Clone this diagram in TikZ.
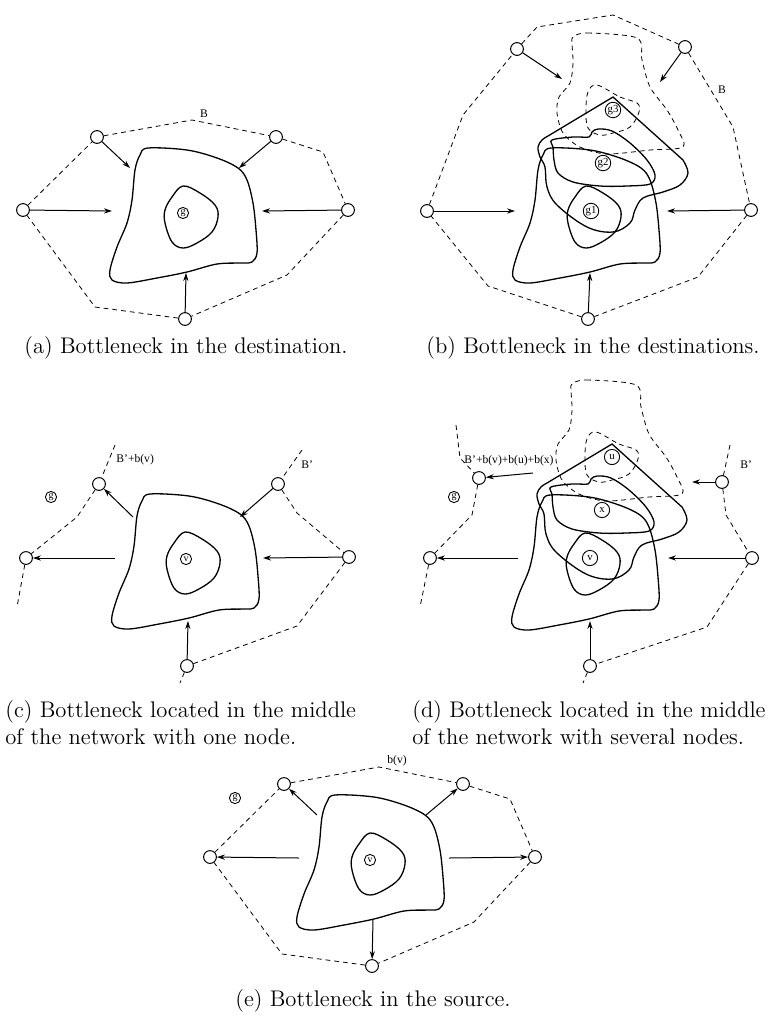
\documentclass[tikz,border=0pt]{standalone}
\usepackage{fontspec}
\usetikzlibrary{arrows.meta}
\newfontfamily\tms{Liberation Serif}
\tikzset{
 net/.style={circle,draw,line width=0.5pt,minimum size=6.4pt,inner sep=0pt},
 lab/.style={circle,draw,line width=0.45pt,inner sep=0.2pt,minimum size=5.6pt,font=\tms\fontsize{5}{5}\selectfont},
 labb/.style={lab,minimum size=7.6pt,font=\tms\fontsize{5.4}{5.4}\selectfont},
 blob/.style={line width=0.65pt},
 dl/.style={dashed,dash pattern=on 2.4pt off 2pt,line width=0.4pt},
 arr/.style={-{Stealth[length=4pt,width=2.6pt]},line width=0.5pt},
 txt/.style={font=\tms\fontsize{5.8}{7}\selectfont,inner sep=0pt},
 captxt/.style={font=\fontsize{11.3}{13.6}\selectfont,inner sep=0pt},
}
\newcommand\blobsA{%
 \draw[blob] plot[smooth cycle, tension=0.55] coordinates {(148,148) (187,150) (217,158) (238,168) (247,180) (253,203) (256,230) (257,253) (252,262) (243,263) (217,264) (187,272) (157,278) (127,283) (112,280) (110,270) (117,247) (127,223) (132,200) (135,170) (140,155)};
 \draw[blob] plot[smooth cycle, tension=0.6] coordinates {(183,186) (200,193) (215,205) (218,217) (212,232) (197,243) (183,248) (172,242) (165,223) (165,210) (172,197)};
}
\newcommand\blobsB{%
 \begin{scope}[shift={(403,0)}]\blobsA\end{scope}
 \draw[blob] (613,97) -- (683,160) -- plot[smooth, tension=0.6] coordinates {(683,160) (688,173) (680,185) (663,192) (643,198) (635,210) (630,223) (613,232) (587,227) (557,205) (547,187) (545,167) (540,157) (538,147) (542,140) (548,136)} -- cycle;
 \draw[blob] plot[smooth cycle, tension=0.55] coordinates {(552,140) (573,137) (589,137) (592,132) (598,129) (612,131) (630,143) (647,160) (655,175) (650,184) (627,186) (600,186) (573,182) (558,173) (554,160) (553,147)};
 \draw[dl] plot[smooth cycle, tension=0.5] coordinates {(573,37) (587,33) (637,38) (642,60) (650,87) (667,110) (678,130) (683,147) (650,150) (607,154) (580,147) (563,133) (557,113) (559,97) (570,83) (573,63) (572,43)};
 \draw[dl] plot[smooth cycle, tension=0.6] coordinates {(597,85) (620,97) (637,103) (639,112) (630,127) (613,133) (600,135) (588,128) (586,110) (588,92)};
}
\begin{document}
\begin{tikzpicture}[x=0.5pt,y=-0.5pt]
\useasboundingbox (0,0) rectangle (778,1024);
% ---------- (a)
\blobsA
\node[net] (a-tl) at (97,137) {};
\node[net] (a-tr) at (276,137) {};
\node[net] (a-l) at (23,210) {};
\node[net] (a-r) at (348,210) {};
\node[net] (a-b) at (185,319) {};
\node[lab] (a-g) at (183,213) {g};
\node[txt] (a-B) at (204,114) {B};
\coordinate (a-ptl) at (130,168);
\coordinate (a-ptr) at (239,168);
\coordinate (a-pl) at (112,211);
\coordinate (a-pr) at (262,211);
\coordinate (a-pb) at (186,273);
\draw[dl] (a-tl) -- (192,120) -- (a-tr) -- (323,152) -- (a-r) -- (287,275) -- (a-b) -- (95,307) -- (a-l) -- (a-tl);
\draw[arr] (a-tl) -- (a-ptl);
\draw[arr] (a-tr) -- (a-ptr);
\draw[arr] (a-l) -- (a-pl);
\draw[arr] (a-r) -- (a-pr);
\draw[arr] (a-b) -- (a-pb);
\node[captxt] (a-cap) at (186,348) {(a) Bottleneck in the destination.};
% ---------- (b)
\blobsB
\node[net] (b-tl) at (517,49) {};
\node[net] (b-tr) at (685,47) {};
\node[net] (b-l) at (427,211) {};
\node[net] (b-r) at (751,210) {};
\node[net] (b-b) at (588,319) {};
\node[labb] (b-g3) at (613,110) {g3};
\node[labb] (b-g2) at (603,163) {g2};
\node[labb] (b-g1) at (591,211) {g1};
\node[txt] (b-B) at (722,90) {B};
\coordinate (b-ptl) at (562,79);
\coordinate (b-ptr) at (660,82);
\coordinate (b-pl) at (515,211);
\coordinate (b-pr) at (667,211);
\coordinate (b-pb) at (590,273);
\draw[dl] (b-tl) -- (537,27) -- (613,15) -- (b-tr) -- (733,127) -- (b-r) -- (698,277) -- (b-b) -- (488,286) -- (b-l) -- (463,115) -- (b-tl);
\draw[arr] (b-tl) -- (b-ptl);
\draw[arr] (b-tr) -- (b-ptr);
\draw[arr] (b-l) -- (b-pl);
\draw[arr] (b-r) -- (b-pr);
\draw[arr] (b-b) -- (b-pb);
\node[captxt] (b-cap) at (593,348) {(b) Bottleneck in the destinations.};
% ---------- (c)
\begin{scope}[shift={(2,346)}]\blobsA\end{scope}
\node[net] (c-tl) at (99,484) {};
\node[net] (c-tr) at (278,484) {};
\node[net] (c-l) at (26,558) {};
\node[net] (c-r) at (349,557) {};
\node[net] (c-b) at (187,666) {};
\node[lab] (c-v) at (186,559) {v};
\node[lab] (c-g) at (51,497) {g};
\node[txt,anchor=west] (c-lab1) at (116,460) {B’+b(v)};
\node[txt,anchor=west] (c-lab2) at (301,465) {B’};
\coordinate (c-ptl) at (133,517);
\coordinate (c-ptr) at (240,517);
\coordinate (c-pl) at (115,558);
\coordinate (c-pr) at (263,558);
\coordinate (c-pb) at (188,621);
\coordinate (c-d1) at (115,445);
\coordinate (c-d2) at (17,607);
\coordinate (c-d3) at (302,450);
\coordinate (c-d4) at (180,683);
\draw[dl] (c-d1) -- (c-tl) -- (77,517) -- (c-l) -- (c-d2);
\draw[dl] (c-d3) -- (c-tr) -- (297,513) -- (c-r) -- (297,626) -- (c-b) -- (c-d4);
\draw[arr] (c-ptl) -- (c-tl);
\draw[arr] (c-tr) -- (c-ptr);
\draw[arr] (c-pl) -- (c-l);
\draw[arr] (c-r) -- (c-pr);
\draw[arr] (c-b) -- (c-pb);
\node[captxt,anchor=west] (c-cap1) at (5,712) {(c) Bottleneck located in the middle};
\node[captxt,anchor=west] (c-cap2) at (5,737) {of the network with one node.};
% ---------- (d)
\begin{scope}[shift={(-1,347)}]\blobsB\end{scope}
\node[net] (d-ul) at (479,478) {};
\node[net] (d-l) at (430,558) {};
\node[net] (d-ur) at (722,482) {};
\node[net] (d-r) at (752,558) {};
\node[net] (d-b) at (590,666) {};
\node[labb] (d-u) at (612,457) {u};
\node[labb] (d-x) at (602,510) {x};
\node[labb] (d-v) at (590,558) {v};
\node[lab] (d-g) at (454,497) {g};
\node[txt,anchor=west] (d-lab1) at (464,461) {B’+b(v)+b(u)+b(x)};
\node[txt,anchor=west] (d-lab2) at (740,465) {B’};
\coordinate (d-pul) at (533,473);
\coordinate (d-pur) at (692,482);
\coordinate (d-pl) at (518,558);
\coordinate (d-pr) at (668,558);
\coordinate (d-pb) at (590,621);
\coordinate (d-d1) at (456,425);
\coordinate (d-d2) at (420,607);
\coordinate (d-d3) at (730,445);
\coordinate (d-d4) at (583,683);
\draw[dl] (d-d1) -- (460,458) -- (d-ul) -- (472,515) -- (d-l) -- (d-d2);
\draw[dl] (d-d3) -- (d-ur) -- (726,515) -- (d-r) -- (707,627) -- (d-b) -- (d-d4);
\draw[arr] (d-pul) -- (d-ul);
\draw[arr] (d-ur) -- (d-pur);
\draw[arr] (d-pl) -- (d-l);
\draw[arr] (d-r) -- (d-pr);
\draw[arr] (d-b) -- (d-pb);
\node[captxt,anchor=west] (d-cap1) at (412,712) {(d) Bottleneck located in the middle};
\node[captxt,anchor=west] (d-cap2) at (412,737) {of the network with several nodes.};
% ---------- (e)
\begin{scope}[shift={(187,647)}]
\blobsA
\node[net] (e-tl) at (97,137) {};
\node[net] (e-tr) at (276,137) {};
\node[net] (e-l) at (23,210) {};
\node[net] (e-r) at (348,210) {};
\node[net] (e-b) at (185,319) {};
\node[lab] (e-v) at (183,213) {v};
\node[lab] (e-g) at (48,151) {g};
\node[txt] (e-B) at (210,114) {b(v)};
\coordinate (e-ptl) at (130,168);
\coordinate (e-ptr) at (239,168);
\coordinate (e-pl) at (112,211);
\coordinate (e-pr) at (262,211);
\coordinate (e-pb) at (186,273);
\draw[dl] (e-tl) -- (192,120) -- (e-tr) -- (323,152) -- (e-r) -- (287,275) -- (e-b) -- (95,307) -- (e-l) -- (e-tl);
\draw[arr] (e-ptl) -- (e-tl);
\draw[arr] (e-ptr) -- (e-tr);
\draw[arr] (e-pl) -- (e-l);
\draw[arr] (e-pr) -- (e-r);
\draw[arr] (e-pb) -- (e-b);
\end{scope}
\node[captxt] (e-cap) at (373,1001) {(e) Bottleneck in the source.};
\end{tikzpicture}
\end{document}
